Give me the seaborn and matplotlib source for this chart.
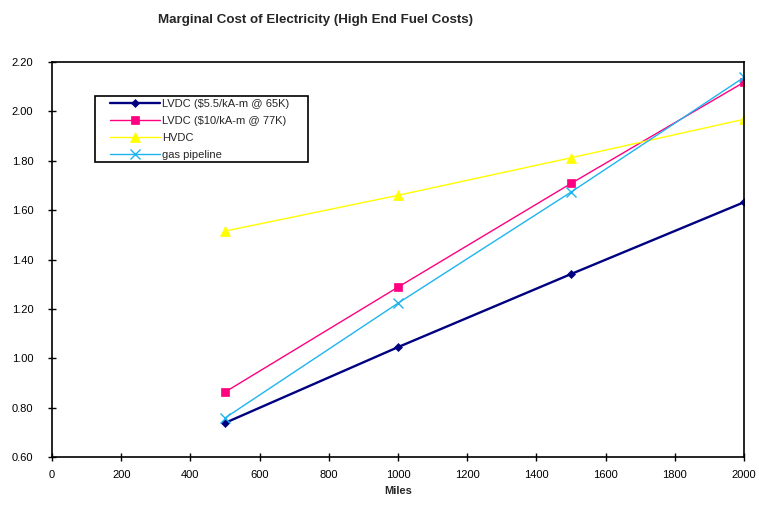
import matplotlib
matplotlib.use("Agg")
import matplotlib.pyplot as plt
from matplotlib.patches import Rectangle
import seaborn as sns
import pandas as pd

miles = [500, 1000, 1500, 2000]
lvdc_55 = [0.738, 1.045, 1.341, 1.632]
lvdc_10 = [0.863, 1.288, 1.708, 2.118]
hvdc = [1.515, 1.660, 1.812, 1.968]
gas_pipeline = [0.758, 1.223, 1.673, 2.138]

series_names = ["LVDC ($5.5/kA-m @ 65K)", "LVDC ($10/kA-m @ 77K)", "HVDC", "gas pipeline"]
series_values = [lvdc_55, lvdc_10, hvdc, gas_pipeline]
x_ticks = [0, 200, 400, 600, 800, 1000, 1200, 1400, 1600, 1800, 2000]
y_ticks = [0.60, 0.80, 1.00, 1.20, 1.40, 1.60, 1.80, 2.00, 2.20]

styles = {
    "LVDC ($5.5/kA-m @ 65K)": dict(color="#000080", marker="D", ms=4, lw=1.7, mew=0.5),
    "LVDC ($10/kA-m @ 77K)": dict(color="#FF0080", marker="s", ms=6, lw=1.0, mew=0.5),
    "HVDC": dict(color="#FFFF00", marker="^", ms=7, lw=1.0, mew=0.5),
    "gas pipeline": dict(color="#1EB4F0", marker="x", ms=7, lw=1.0, mew=1.0),
}

sns.set_theme(style="white")
plt.rcParams["font.family"] = ["Liberation Sans", "DejaVu Sans"]

df = pd.DataFrame(
    [(n, m, v) for n, vals in zip(series_names, series_values) for m, v in zip(miles, vals)],
    columns=["series", "Miles", "cost"],
)

fig = plt.figure(figsize=(7.59, 5.07), dpi=100)
ax = fig.add_axes([52 / 759, 50 / 507, 692 / 759, 395 / 507])

for name in series_names:
    st = styles[name]
    sub = df[df["series"] == name]
    sns.lineplot(
        data=sub, x="Miles", y="cost", ax=ax, label=name,
        color=st["color"], marker=st["marker"], markersize=st["ms"],
        linewidth=st["lw"], markeredgecolor=st["color"], markeredgewidth=st["mew"],
    )

ax.set_xlim(0, 2000)
ax.set_ylim(0.6, 2.2)
ax.set_xticks(x_ticks)
ax.set_xticklabels([str(t) for t in x_ticks])
ax.set_yticks(y_ticks)
ax.set_yticklabels([f"{t:.2f}" for t in y_ticks])
ax.tick_params(axis="both", direction="inout", length=6, width=1, labelsize=8,
               colors="black", bottom=True, left=True)
ax.tick_params(axis="y", pad=10.5)
ax.tick_params(axis="x", pad=6)
for sp in ax.spines.values():
    sp.set_color("black")
    sp.set_linewidth(1.2)
ax.set_xlabel("Miles", fontsize=8, fontweight="bold", labelpad=5)
ax.set_ylabel("")

# legend box drawn separately so the padding around the entries can be set freely
ax.add_patch(Rectangle((0.0621, 0.747), 0.3079, 0.167, transform=ax.transAxes,
                       facecolor="white", edgecolor="black", linewidth=1.2, zorder=4))
leg = ax.legend(loc="upper left", bbox_to_anchor=(0.0838, 0.906), fontsize=8,
                frameon=False, handlelength=4.5, borderpad=0, labelspacing=0.62,
                handletextpad=0.2, borderaxespad=0)
leg.set_zorder(5)

fig.text(316 / 759, 1 - 20 / 507, "Marginal Cost of Electricity (High End Fuel Costs)",
         ha="center", va="center", fontsize=9.6, fontweight="bold")

fig.savefig("out.png", dpi=100)
